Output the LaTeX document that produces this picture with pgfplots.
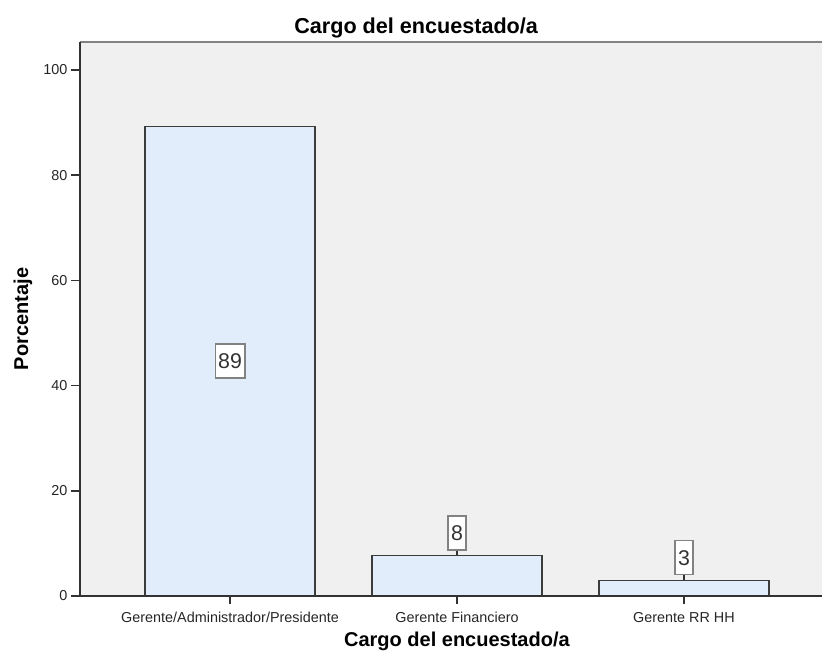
\documentclass[border=0pt]{standalone}
\usepackage{pgfplots}
\pgfplotsset{compat=1.18}
\usepackage{fontspec}
\setmainfont{Liberation Sans}
\definecolor{bgc}{RGB}{240,240,240}
\definecolor{barc}{RGB}{225,237,250}
\definecolor{edgec}{RGB}{60,60,60}
\definecolor{axc}{RGB}{50,50,50}
\definecolor{topc}{RGB}{130,130,130}
\begin{document}
\begin{tikzpicture}
\begin{axis}[
  scale only axis,
  width=556.5pt, height=415.5pt,
  xmin=-0.661, xmax=2.608,
  ymin=0, ymax=105.3,
  axis line style={draw=none},
  axis background/.style={fill=bgc},
  xtick pos=bottom, ytick pos=left,
  tick align=outside,
  major tick length=6pt,
  major tick style={draw=axc, line width=1.1pt},
  xtick={0,1,2},
  xticklabels={Gerente/Administrador/Presidente, Gerente Financiero, Gerente RR HH},
  ytick={0,20,40,60,80,100},
  /pgf/number format/assume math mode=true,
  tick label style={font=\fontsize{10.8}{13}\selectfont, text=black!85},
  xticklabel style={yshift=-2.5pt},
  title={Cargo del encuestado/a},
  title style={font=\bfseries\fontsize{16.2}{19}\selectfont, at={(axis description cs:0.453,1)}, anchor=base, yshift=0pt},
  xlabel={Cargo del encuestado/a},
  xlabel style={font=\bfseries\fontsize{15}{18}\selectfont, at={(axis description cs:0.508,0)}, anchor=base, yshift=-38pt},
  ylabel={Porcentaje},
  ylabel style={font=\bfseries\fontsize{15}{18}\selectfont, at={(axis description cs:-0.0768,0.5)}, anchor=center},
  clip=false,
]
\addplot[ybar, bar width=0.75, fill=barc, draw=edgec, line width=1pt] coordinates {(0,89.3) (1,7.7) (2,3.0)};
\addplot[draw=none, mark=none, nodes near coords, point meta=explicit symbolic,
  every node near coord/.style={anchor=center, draw=topc, fill=white, line width=0.9pt,
    font=\fontsize{16}{19}\selectfont, text=black!80, inner xsep=2.3pt, inner ysep=0pt, minimum height=25.5pt}]
  coordinates {(0,44.65) [89]};
\addplot[draw=none, mark=none, nodes near coords, point meta=explicit symbolic,
  every node near coord/.style={anchor=south, yshift=3.6pt, draw=topc, fill=white, line width=0.9pt,
    font=\fontsize{16}{19}\selectfont, text=black!80, inner xsep=2.3pt, inner ysep=0pt, minimum height=25.5pt,
    append after command={(\tikzlastnode.south) edge[draw=axc, line width=0.9pt] ([yshift=-3.6pt]\tikzlastnode.south)}}]
  coordinates {(1,7.7) [8] (2,3.0) [3]};
\draw[topc, line width=1.4pt] (rel axis cs:0,1) -- (rel axis cs:1,1);
\draw[axc, line width=1pt] (rel axis cs:0,1) -- (rel axis cs:0,0) -- (rel axis cs:1,0);
\pgfplotsinvokeforeach{0,20,40,60,80,100}{
  \node[anchor=east, inner sep=0pt, outer sep=0pt] at (axis cs:-0.661,#1) {\textcolor{axc}{\rule[-0.55pt]{6.5pt}{1.1pt}}};
}
\pgfplotsinvokeforeach{0,1,2}{
  \node[anchor=north, inner sep=0pt, outer sep=0pt] at (axis cs:#1,0) {\textcolor{axc}{\rule{1.1pt}{4.5pt}}};
}
\end{axis}
\pgfresetboundingbox
\path[use as bounding box] (-60pt,-45.75pt) rectangle (556.5pt,447pt);
\end{tikzpicture}
\end{document}
